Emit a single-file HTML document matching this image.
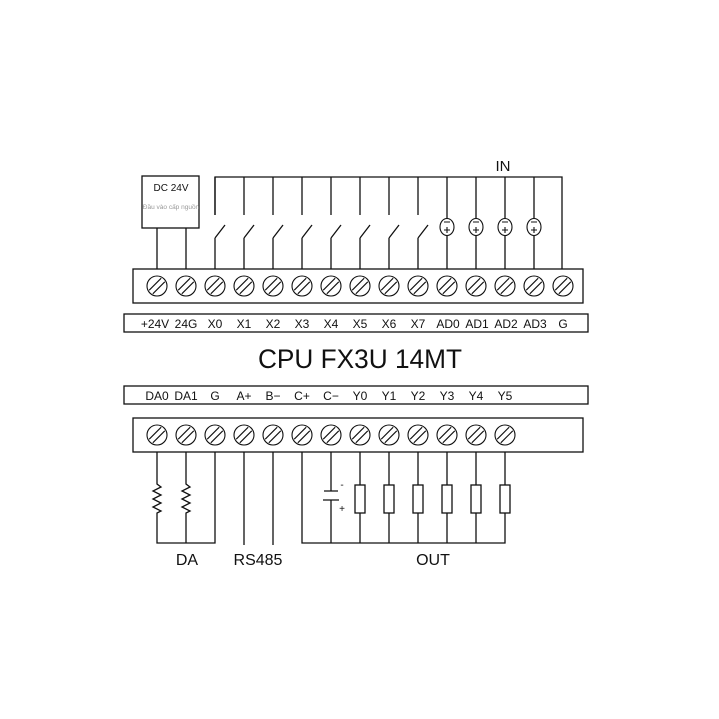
<!DOCTYPE html>
<html><head><meta charset="utf-8"><style>
html,body{margin:0;padding:0;background:#fff;width:719px;height:719px;overflow:hidden}
svg text{font-family:"Liberation Sans","DejaVu Sans",sans-serif;fill:#111}
</style></head><body>
<svg width="719" height="719" viewBox="0 0 719 719" xmlns="http://www.w3.org/2000/svg" stroke="#111" stroke-width="1.3" fill="none">
<defs>
<g id="t"><circle cx="0" cy="0" r="10"/><path d="M-4.2 7.8l12-12M-7.8 4.2l12-12"/></g>
</defs>
<rect x="142" y="176" width="57" height="52"/>
<text x="171" y="191" font-size="10" text-anchor="middle" stroke="none">DC  24V</text>
<text x="171" y="209" font-size="6.5" text-anchor="middle" stroke="none" style="fill:#999">Đầu vào cấp nguồn</text>
<line x1="157" y1="228" x2="157" y2="269"/>
<line x1="186" y1="228" x2="186" y2="269"/>
<polyline points="215,215 215,177 562,177 562,269"/>
<path d="M215 177V215M215 238L225 225M215 238V269
M244 177V215M244 238L254 225M244 238V269
M273 177V215M273 238L283 225M273 238V269
M302 177V215M302 238L312 225M302 238V269
M331 177V215M331 238L341 225M331 238V269
M360 177V215M360 238L370 225M360 238V269
M389 177V215M389 238L399 225M389 238V269
M418 177V215M418 238L428 225M418 238V269"/>
<path d="M447 177V219M447 235V269M476 177V219M476 235V269M505 177V219M505 235V269M534 177V219M534 235V269"/>
<g stroke-width="1.1">
<ellipse cx="447" cy="227" rx="7" ry="8.5"/><ellipse cx="476" cy="227" rx="7" ry="8.5"/><ellipse cx="505" cy="227" rx="7" ry="8.5"/><ellipse cx="534" cy="227" rx="7" ry="8.5"/>
<path d="M444 222h6M444 230h6M447 227v6M473 222h6M473 230h6M476 227v6M502 222h6M502 230h6M505 227v6M531 222h6M531 230h6M534 227v6"/>
</g>
<text x="503" y="171" font-size="15" text-anchor="middle" stroke="none">IN</text>
<rect x="133" y="269" width="450" height="34"/>
<g stroke-width="1.1">
<use href="#t" x="157" y="286"/><use href="#t" x="186" y="286"/><use href="#t" x="215" y="286"/><use href="#t" x="244" y="286"/><use href="#t" x="273" y="286"/><use href="#t" x="302" y="286"/><use href="#t" x="331" y="286"/><use href="#t" x="360" y="286"/><use href="#t" x="389" y="286"/><use href="#t" x="418" y="286"/><use href="#t" x="447" y="286"/><use href="#t" x="476" y="286"/><use href="#t" x="505" y="286"/><use href="#t" x="534" y="286"/><use href="#t" x="563" y="286"/>
</g>
<rect x="124" y="314" width="464" height="18"/>
<g font-size="12" text-anchor="middle" stroke="none">
<text x="155" y="328">+24V</text><text x="186" y="328">24G</text><text x="215" y="328">X0</text><text x="244" y="328">X1</text><text x="273" y="328">X2</text><text x="302" y="328">X3</text><text x="331" y="328">X4</text><text x="360" y="328">X5</text><text x="389" y="328">X6</text><text x="418" y="328">X7</text><text x="448" y="328">AD0</text><text x="477" y="328">AD1</text><text x="506" y="328">AD2</text><text x="535" y="328">AD3</text><text x="563" y="328">G</text>
</g>
<text x="360" y="368" font-size="27" text-anchor="middle" stroke="none" textLength="204" lengthAdjust="spacingAndGlyphs">CPU FX3U 14MT</text>
<rect x="124" y="386" width="464" height="18"/>
<g font-size="12" text-anchor="middle" stroke="none">
<text x="157" y="400">DA0</text><text x="186" y="400">DA1</text><text x="215" y="400">G</text><text x="244" y="400">A+</text><text x="273" y="400">B−</text><text x="302" y="400">C+</text><text x="331" y="400">C−</text><text x="360" y="400">Y0</text><text x="389" y="400">Y1</text><text x="418" y="400">Y2</text><text x="447" y="400">Y3</text><text x="476" y="400">Y4</text><text x="505" y="400">Y5</text>
</g>
<rect x="133" y="418" width="450" height="34"/>
<g stroke-width="1.1">
<use href="#t" x="157" y="435"/><use href="#t" x="186" y="435"/><use href="#t" x="215" y="435"/><use href="#t" x="244" y="435"/><use href="#t" x="273" y="435"/><use href="#t" x="302" y="435"/><use href="#t" x="331" y="435"/><use href="#t" x="360" y="435"/><use href="#t" x="389" y="435"/><use href="#t" x="418" y="435"/><use href="#t" x="447" y="435"/><use href="#t" x="476" y="435"/><use href="#t" x="505" y="435"/>
</g>
<path d="M157 452V484l4 3-8 4 8 4-8 4 8 4-8 4 8 4-4 2V543H215V452"/>
<path d="M186 452V484l4 3-8 4 8 4-8 4 8 4-8 4 8 4-4 2V543"/>
<path d="M244 452V545M273 452V545"/>
<path d="M302 452V543H505V513M331 452V491M331 500V543M324 491h14M323 500h16"/>
<path d="M360 452V485M360 513V543M389 452V485M389 513V543M418 452V485M418 513V543M447 452V485M447 513V543M476 452V485M476 513V543M505 452V485"/>
<rect x="355" y="485" width="10" height="28"/><rect x="384" y="485" width="10" height="28"/><rect x="413" y="485" width="10" height="28"/><rect x="442" y="485" width="10" height="28"/><rect x="471" y="485" width="10" height="28"/><rect x="500" y="485" width="10" height="28"/>
<text x="342" y="488" font-size="10" text-anchor="middle" stroke="none">-</text>
<text x="342" y="512" font-size="10" text-anchor="middle" stroke="none">+</text>
<g font-size="16" text-anchor="middle" stroke="none">
<text x="187" y="565">DA</text><text x="258" y="565">RS485</text><text x="433" y="565">OUT</text>
</g>
</svg>
</body></html>
